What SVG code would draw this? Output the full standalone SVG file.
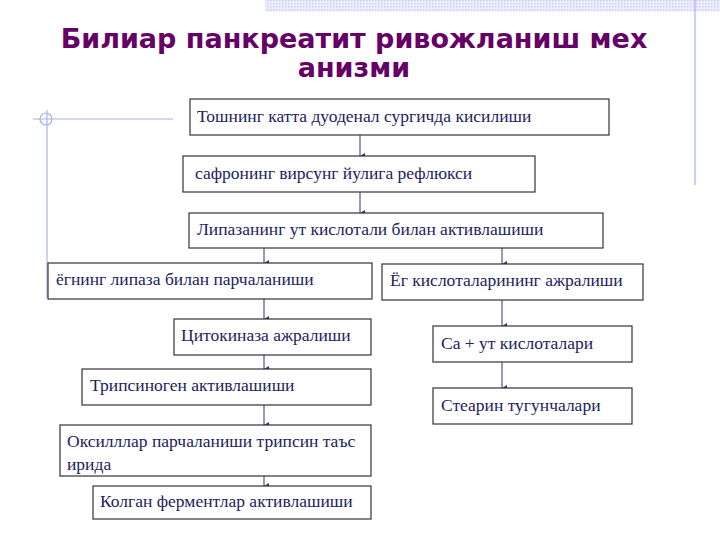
<svg xmlns="http://www.w3.org/2000/svg" width="720" height="540" viewBox="0 0 720 540">
<defs>
<pattern id="dots" width="3" height="3" patternUnits="userSpaceOnUse"><rect width="3" height="3" fill="#eef0fb"/><rect width="1.5" height="1.5" fill="#c8cdf0"/></pattern>
<marker id="ah" markerWidth="8" markerHeight="8" refX="4" refY="7" orient="auto" markerUnits="userSpaceOnUse"><path d="M1,2 L4,7 L7,2 Z" fill="#33337a"/></marker>
<style>
.b{fill:#fff;stroke:#333;stroke-width:1.2}
.t{font-size:17.5px;fill:#22225e}
.c{stroke:#33337a;stroke-width:1;fill:none;marker-end:url(#ah)}
.d{stroke:#a8b0ee;stroke-width:1.2;fill:none}
</style>
</defs>
<rect width="720" height="540" fill="#fff"/>
<rect x="265" y="0" width="455" height="12" fill="url(#dots)"/>
<line class="d" x1="695" y1="0" x2="695" y2="185"/>
<line class="d" x1="33" y1="119" x2="173" y2="119"/>
<circle class="d" cx="46" cy="119" r="6"/>
<line class="d" x1="47" y1="110" x2="47" y2="298"/>
<text x="354" y="48" text-anchor="middle" font-family="DejaVu Sans, sans-serif" font-weight="bold" font-size="27" fill="#660066">Билиар панкреатит ривожланиш мех</text>
<text x="354" y="77" text-anchor="middle" font-family="DejaVu Sans, sans-serif" font-weight="bold" font-size="27" fill="#660066">анизми</text>
<g id="connectors">
<line class="c" x1="360" y1="135" x2="360" y2="156"/>
<line class="c" x1="360" y1="192" x2="360" y2="213"/>
<line class="c" x1="264" y1="248" x2="264" y2="263"/>
<line class="c" x1="502" y1="248" x2="502" y2="264"/>
<line class="c" x1="264" y1="299" x2="264" y2="319"/>
<line class="c" x1="264" y1="355" x2="264" y2="369"/>
<line class="c" x1="264" y1="405" x2="264" y2="425"/>
<line class="c" x1="264" y1="462" x2="264" y2="486"/>
<line class="c" x1="502" y1="300" x2="502" y2="326"/>
<line class="c" x1="502" y1="362" x2="502" y2="388"/>
</g>
<g font-family="Liberation Serif, DejaVu Serif, serif">
<g id="n1"><rect class="b" x="190" y="99" width="419" height="36"/><text class="t" x="197" y="122">Тошнинг катта дуоденал сургичда кисилиши</text></g>
<g id="n2"><rect class="b" x="183" y="156" width="352" height="36"/><text class="t" x="195" y="179">сафронинг  вирсунг йулига рефлюкси</text></g>
<g id="n3"><rect class="b" x="189" y="213" width="414" height="35"/><text class="t" x="197" y="235">Липазанинг  ут кислотали билан активлашиши</text></g>
<g id="n4"><rect class="b" x="48" y="263" width="324" height="36"/><text class="t" x="56" y="285">ёгнинг липаза билан парчаланиши</text></g>
<g id="n5"><rect class="b" x="382" y="264" width="261" height="36"/><text class="t" x="390" y="286">Ёг кислоталарининг ажралиши</text></g>
<g id="n6"><rect class="b" x="174" y="319" width="197" height="36"/><text class="t" x="181" y="341">Цитокиназа ажралиши</text></g>
<g id="n7"><rect class="b" x="82" y="369" width="289" height="36"/><text class="t" x="90" y="391">Трипсиноген активлашиши</text></g>
<g id="n8"><rect class="b" x="60" y="425" width="311" height="51"/><text class="t" x="67" y="447">Оксилллар парчаланиши трипсин таъс</text><text class="t" x="67" y="470">ирида</text></g>
<g id="n9"><rect class="b" x="93" y="486" width="278" height="33"/><text class="t" x="100" y="507">Колган ферментлар активлашиши</text></g>
<g id="n10"><rect class="b" x="433" y="326" width="199" height="36"/><text class="t" x="441" y="349">Са + ут кислоталари</text></g>
<g id="n11"><rect class="b" x="433" y="388" width="199" height="36"/><text class="t" x="441" y="411">Стеарин тугунчалари</text></g>
</g>
</svg>
